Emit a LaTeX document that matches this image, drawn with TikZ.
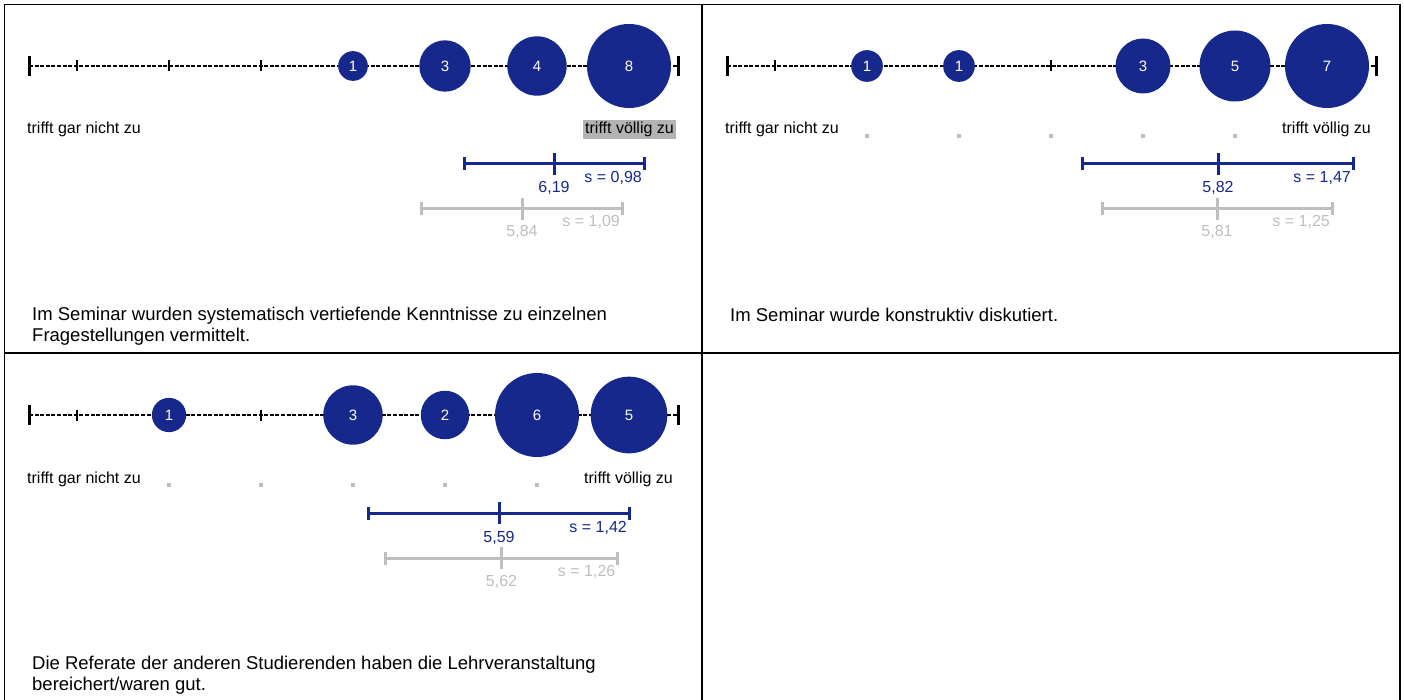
\documentclass[tikz,border=0pt]{standalone}
\usepackage{fontspec}
\setmainfont{Liberation Sans}
\definecolor{unblue}{RGB}{23,40,140}
\definecolor{refgrey}{RGB}{190,190,190}
\definecolor{hlgrey}{RGB}{179,179,179}
\tikzset{
  scaleline/.style={line width=2.6pt, dash pattern=on 4pt off 1.6pt},
  endtick/.style={line width=3pt},
  midtick/.style={line width=2.6pt},
  bub/.style={circle, fill=unblue, inner sep=0pt, minimum size=#1, text=white, font=\fontsize{15}{15}\selectfont},
  pole/.style={inner sep=0pt, font=\fontsize{16}{16}\selectfont},
  sbar/.style={line width=3pt},
  val/.style={inner sep=0pt, font=\fontsize{16}{16}\selectfont},
  gdot/.style={fill=refgrey, minimum size=3.5pt, inner sep=0pt},
  item/.style={inner sep=0pt, align=left, font=\fontsize{18.5}{20.5}\selectfont}
}
\begin{document}
\begin{tikzpicture}[x=1pt,y=-1pt]
\useasboundingbox (0,0) rectangle (1404,700);
\draw[line width=1.5pt] (4.5,701) -- (4.5,4.5) -- (1400,4.5) -- (1400,701)
  (702,4.5) -- (702,701) (4.5,353) -- (1400,353);

% panel 1
\coordinate (a0) at (29,66); \coordinate (a8) at (678,66);
\draw[scaleline] (a0) -- (a8);
\draw[endtick] (a0) +(0,-10) -- +(0,10) (a8) +(0,-10) -- +(0,10);
\foreach \x in {77,169,...,629} \draw[midtick] (\x,60.5) -- (\x,71.5);
\node[bub=29.7] (a4) at (353,66) {1};
\node[bub=51.4] (a5) at (445,66) {3};
\node[bub=59.4] (a6) at (537,66) {4};
\node[bub=84] (a7) at (629,66) {8};
\node[pole, anchor=base west] (alo) at (27,134) {trifft gar nicht zu};
\node[pole, anchor=base east, fill=hlgrey, inner sep=2pt] (ahi) at (676,134) {trifft völlig zu};
\coordinate (abl) at (464,164); \coordinate (abr) at (644,164); \coordinate (abm) at (554,164);
\draw[sbar, unblue] (abl) +(0,-6.5) -- +(0,6.5) (abl) -- (abr) +(0,-6.5) -- +(0,6.5) (abm) +(0,-11) -- +(0,11);
\node[val, text=unblue, anchor=base] (abv) at (554,193) {6,19};
\node[val, text=unblue, anchor=base east] (abs) at (642,183) {s = 0,98};
\coordinate (agl) at (421.5,209); \coordinate (agr) at (622,209); \coordinate (agm) at (522,209);
\draw[sbar, refgrey] (agl) +(0,-6.5) -- +(0,6.5) (agl) -- (agr) +(0,-6.5) -- +(0,6.5) (agm) +(0,-11) -- +(0,11);
\node[val, text=refgrey, anchor=base] (agv) at (522,237) {5,84};
\node[val, text=refgrey, anchor=base east] (ags) at (620,227) {s = 1,09};
\node[item, anchor=base west] (aq) at (32,341) {Im Seminar wurden systematisch vertiefende Kenntnisse zu einzelnen\\Fragestellungen vermittelt.};

% panel 2
\begin{scope}[shift={(698,0)}]
\coordinate (b0) at (29,66); \coordinate (b8) at (678,66);
\draw[scaleline] (b0) -- (b8);
\draw[endtick] (b0) +(0,-10) -- +(0,10) (b8) +(0,-10) -- +(0,10);
\foreach \x in {77,169,...,629} \draw[midtick] (\x,60.5) -- (\x,71.5);
\foreach \x in {169,261,...,537} \node[gdot] (bd\x) at (\x,136) {};
\node[bub=31.7] (b2) at (169,66) {1};
\node[bub=31.7] (b3) at (261,66) {1};
\node[bub=55] (b5) at (445,66) {3};
\node[bub=71] (b6) at (537,66) {5};
\node[bub=84] (b7) at (629,66) {7};
\node[pole, anchor=base west] (blo) at (27,134) {trifft gar nicht zu};
\node[pole, anchor=base east] (bhi) at (673,134) {trifft völlig zu};
\coordinate (bbl) at (384.7,164); \coordinate (bbr) at (655,164); \coordinate (bbm) at (520,164);
\draw[sbar, unblue] (bbl) +(0,-6.5) -- +(0,6.5) (bbl) -- (bbr) +(0,-6.5) -- +(0,6.5) (bbm) +(0,-11) -- +(0,11);
\node[val, text=unblue, anchor=base] (bbv) at (520,193) {5,82};
\node[val, text=unblue, anchor=base east] (bbs) at (653,183) {s = 1,47};
\coordinate (bgl) at (404,209); \coordinate (bgr) at (634,209); \coordinate (bgm) at (519,209);
\draw[sbar, refgrey] (bgl) +(0,-6.5) -- +(0,6.5) (bgl) -- (bgr) +(0,-6.5) -- +(0,6.5) (bgm) +(0,-11) -- +(0,11);
\node[val, text=refgrey, anchor=base] (bgv) at (519,237) {5,81};
\node[val, text=refgrey, anchor=base east] (bgs) at (632,227) {s = 1,25};
\node[item, anchor=base west] (bq) at (32,321) {Im Seminar wurde konstruktiv diskutiert.};
\end{scope}

% panel 3
\begin{scope}[shift={(0,349)}]
\coordinate (c0) at (29,66); \coordinate (c8) at (678,66);
\draw[scaleline] (c0) -- (c8);
\draw[endtick] (c0) +(0,-10) -- +(0,10) (c8) +(0,-10) -- +(0,10);
\foreach \x in {77,169,...,629} \draw[midtick] (\x,60.5) -- (\x,71.5);
\foreach \x in {169,261,...,537} \node[gdot] (cd\x) at (\x,136) {};
\node[bub=34.3] (c2) at (169,66) {1};
\node[bub=59.4] (c4) at (353,66) {3};
\node[bub=48.5] (c5) at (445,66) {2};
\node[bub=84] (c6) at (537,66) {6};
\node[bub=76.7] (c7) at (629,66) {5};
\node[pole, anchor=base west] (clo) at (27,134) {trifft gar nicht zu};
\node[pole, anchor=base east] (chi) at (673,134) {trifft völlig zu};
\coordinate (cbl) at (368.2,164); \coordinate (cbr) at (629.4,164); \coordinate (cbm) at (499,164);
\draw[sbar, unblue] (cbl) +(0,-6.5) -- +(0,6.5) (cbl) -- (cbr) +(0,-6.5) -- +(0,6.5) (cbm) +(0,-11) -- +(0,11);
\node[val, text=unblue, anchor=base] (cbv) at (499,193) {5,59};
\node[val, text=unblue, anchor=base east] (cbs) at (627,183) {s = 1,42};
\coordinate (cgl) at (385.6,209); \coordinate (cgr) at (617.4,209); \coordinate (cgm) at (501.5,209);
\draw[sbar, refgrey] (cgl) +(0,-6.5) -- +(0,6.5) (cgl) -- (cgr) +(0,-6.5) -- +(0,6.5) (cgm) +(0,-11) -- +(0,11);
\node[val, text=refgrey, anchor=base] (cgv) at (501.5,237) {5,62};
\node[val, text=refgrey, anchor=base east] (cgs) at (615.5,227) {s = 1,26};
\node[item, anchor=base west] (cq) at (32,341) {Die Referate der anderen Studierenden haben die Lehrveranstaltung\\bereichert/waren gut.};
\end{scope}
\end{tikzpicture}
\end{document}
